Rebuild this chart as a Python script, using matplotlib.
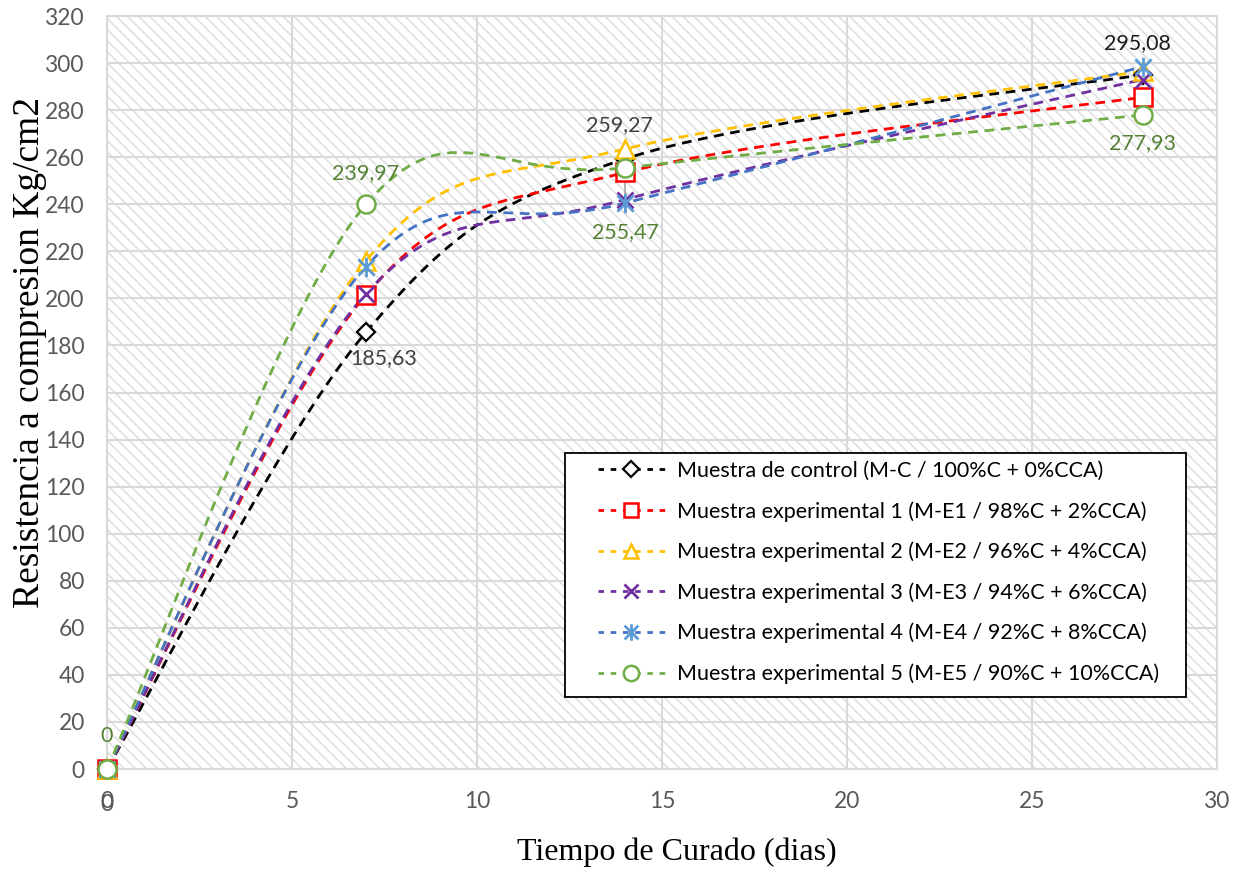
import numpy as np
import matplotlib
matplotlib.use("Agg")
import matplotlib.pyplot as plt
from matplotlib.patches import Rectangle
from matplotlib.path import Path

# ---------------- data ----------------
dias = [0, 7, 14, 28]
control = [0, 185.63, 259.27, 295.08]
exp1 = [0, 201.5, 253.5, 285.5]
exp2 = [0, 216.0, 263.5, 296.5]
exp3 = [0, 202.0, 242.0, 293.0]
exp4 = [0, 213.5, 240.5, 298.5]
exp5 = [0, 239.97, 255.47, 277.93]

series_names = [
    "Muestra de control (M-C / 100%C + 0%CCA)",
    "Muestra experimental 1 (M-E1 / 98%C + 2%CCA)",
    "Muestra experimental 2 (M-E2 / 96%C + 4%CCA)",
    "Muestra experimental 3 (M-E3 / 94%C + 6%CCA)",
    "Muestra experimental 4 (M-E4 / 92%C + 8%CCA)",
    "Muestra experimental 5 (M-E5 / 90%C + 10%CCA)",
]
xticks = [0, 5, 10, 15, 20, 25, 30]
yticks = list(range(0, 321, 20))
leader_x = 14
leader_y = [237, 266]

plt.rcParams['font.family'] = ['Lato', 'DejaVu Sans']
plt.rcParams['hatch.color'] = '#dedede'
plt.rcParams['hatch.linewidth'] = 1.1

W, H = 1238, 871


def excel_smooth(x, y, n=60):
    pts = np.column_stack([x, y]).astype(float)
    out = []
    for i in range(len(pts) - 1):
        p0 = pts[i - 1] if i > 0 else pts[i]
        p1 = pts[i]
        p2 = pts[i + 1]
        p3 = pts[i + 2] if i + 2 < len(pts) else pts[i + 1]
        c1 = p1 + (p2 - p0) / 6.0
        c2 = p2 - (p3 - p1) / 6.0
        t = np.linspace(0, 1, n)[:, None]
        seg = (1 - t) ** 3 * p1 + 3 * (1 - t) ** 2 * t * c1 + 3 * (1 - t) * t ** 2 * c2 + t ** 3 * p2
        out.append(seg if i == 0 else seg[1:])
    s = np.vstack(out)
    return s[:, 0], s[:, 1]


# asterisk marker (X + vertical line)
ast_verts = [(-0.5, -0.5), (0.5, 0.5), (-0.5, 0.5), (0.5, -0.5), (0, -0.6), (0, 0.6)]
ast_codes = [Path.MOVETO, Path.LINETO, Path.MOVETO, Path.LINETO, Path.MOVETO, Path.LINETO]
asterisk = Path(ast_verts, ast_codes)

fig = plt.figure(figsize=(W / 100, H / 100), dpi=100)
ax = fig.add_axes([107 / W, 1 - 769 / H, 1110 / W, 753 / H])

ax.add_patch(Rectangle((0, 0), 1, 1, transform=ax.transAxes, facecolor='white',
                       edgecolor='#dedede', hatch='\\\\\\', lw=0, zorder=0))

styles = [
    dict(color='#000000', marker='D', ms=9, mfc='white', mec='#000000', mew=1.6),
    dict(color='#FF0000', marker='s', ms=12.5, mfc='white', mec='#FF0000', mew=1.8),
    dict(color='#FFC000', marker='^', ms=12.5, mfc='white', mec='#FFC000', mew=1.8),
    dict(color='#7030A0', marker='x', ms=12, mfc='none', mec='#7030A0', mew=2.0),
    dict(color='#4472C4', marker=asterisk, ms=14, mfc='none', mec='#5B9BD5', mew=2.0),
    dict(color='#70AD47', marker='o', ms=13, mfc='white', mec='#70AD47', mew=1.8),
]
data = [control, exp1, exp2, exp3, exp4, exp5]

for i, (vals, st, name) in enumerate(zip(data, styles, series_names)):
    sx, sy = excel_smooth(dias, vals)
    ax.plot(sx, sy, color=st['color'], lw=2.0, dashes=(3.5, 2.4), zorder=3 + i,
            clip_on=False)
    ax.plot(dias, vals, ls='none', marker=st['marker'], ms=st['ms'], mfc=st['mfc'],
            mec=st['mec'], mew=st['mew'], zorder=10 + i, clip_on=False)
    # legend proxy
    ax.plot([], [], color=st['color'], lw=2.0, dashes=(2.0, 2.4), marker=st['marker'],
            ms=st['ms'] * 0.85, mfc=st['mfc'], mec=st['mec'], mew=st['mew'], label=name)

ax.vlines(leader_x, leader_y[0], leader_y[1], color='#a6a6a6', lw=1.2, zorder=9)

# data labels
lab_kw = dict(textcoords='offset pixels', ha='center', va='center', fontsize=15.4, zorder=20)
ax.annotate('0', (dias[0], exp5[0]), xytext=(0, 33), color='#548235', **lab_kw)
ax.annotate('185,63', (dias[1], control[1]), xytext=(18, -26), color='#404040', **lab_kw)
ax.annotate('239,97', (dias[1], exp5[1]), xytext=(0, 31), color='#548235', **lab_kw)
ax.annotate('259,27', (dias[2], control[2]), xytext=(-6, 34), color='#404040', **lab_kw)
ax.annotate('255,47', (dias[2], exp5[2]), xytext=(0, -64), color='#548235', **lab_kw)
ax.annotate('295,08', (dias[3], control[3]), xytext=(-6, 32), color='#1a1a1a', **lab_kw)
ax.annotate('277,93', (dias[3], exp5[3]), xytext=(0, -28), color='#548235', **lab_kw)

ax.set_xlim(0, 30)
ax.set_ylim(0, 320)
ax.set_xticks(xticks)
ax.set_yticks(yticks)
ax.tick_params(length=0, pad=16, labelsize=16.4, labelcolor='#595959')
ax.grid(True, color='#d9d9d9', lw=1.5, zorder=1)
ax.set_axisbelow(True)
for sp in ax.spines.values():
    sp.set_color('#d9d9d9')
    sp.set_linewidth(1.5)

# duplicated zero under the x axis
ax.annotate('0', (0, 0), xytext=(0, -35), textcoords='offset pixels', ha='center',
            va='center', fontsize=16.4, color='#595959', annotation_clip=False)

fig.text(677 / W, 1 - 852 / H, 'Tiempo de Curado (dias)', family='Liberation Serif',
         fontsize=23, color='#000000', ha='center', va='center')
fig.text(30 / W, 1 - 352 / H, 'Resistencia a compresion Kg/cm2', family='Liberation Serif',
         fontsize=27, color='#000000', ha='center', va='center', rotation=90)

# legend box
ax.add_patch(Rectangle((565 / W, 1 - 697 / H), 621 / W, 244 / H,
                       transform=fig.transFigure, facecolor='white',
                       edgecolor='#000000', lw=1.3, zorder=25, clip_on=False))
leg = ax.legend(loc='upper left', bbox_to_anchor=(598 / W, 1 - 461 / H),
                bbox_transform=fig.transFigure, borderaxespad=0, borderpad=0,
                fontsize=15.5, frameon=False, handlelength=3.1, labelspacing=0.93,
                handletextpad=0.56)
leg.set_zorder(30)
for t in leg.get_texts():
    t.set_color('#000000')

fig.savefig('out.png', dpi=100)
